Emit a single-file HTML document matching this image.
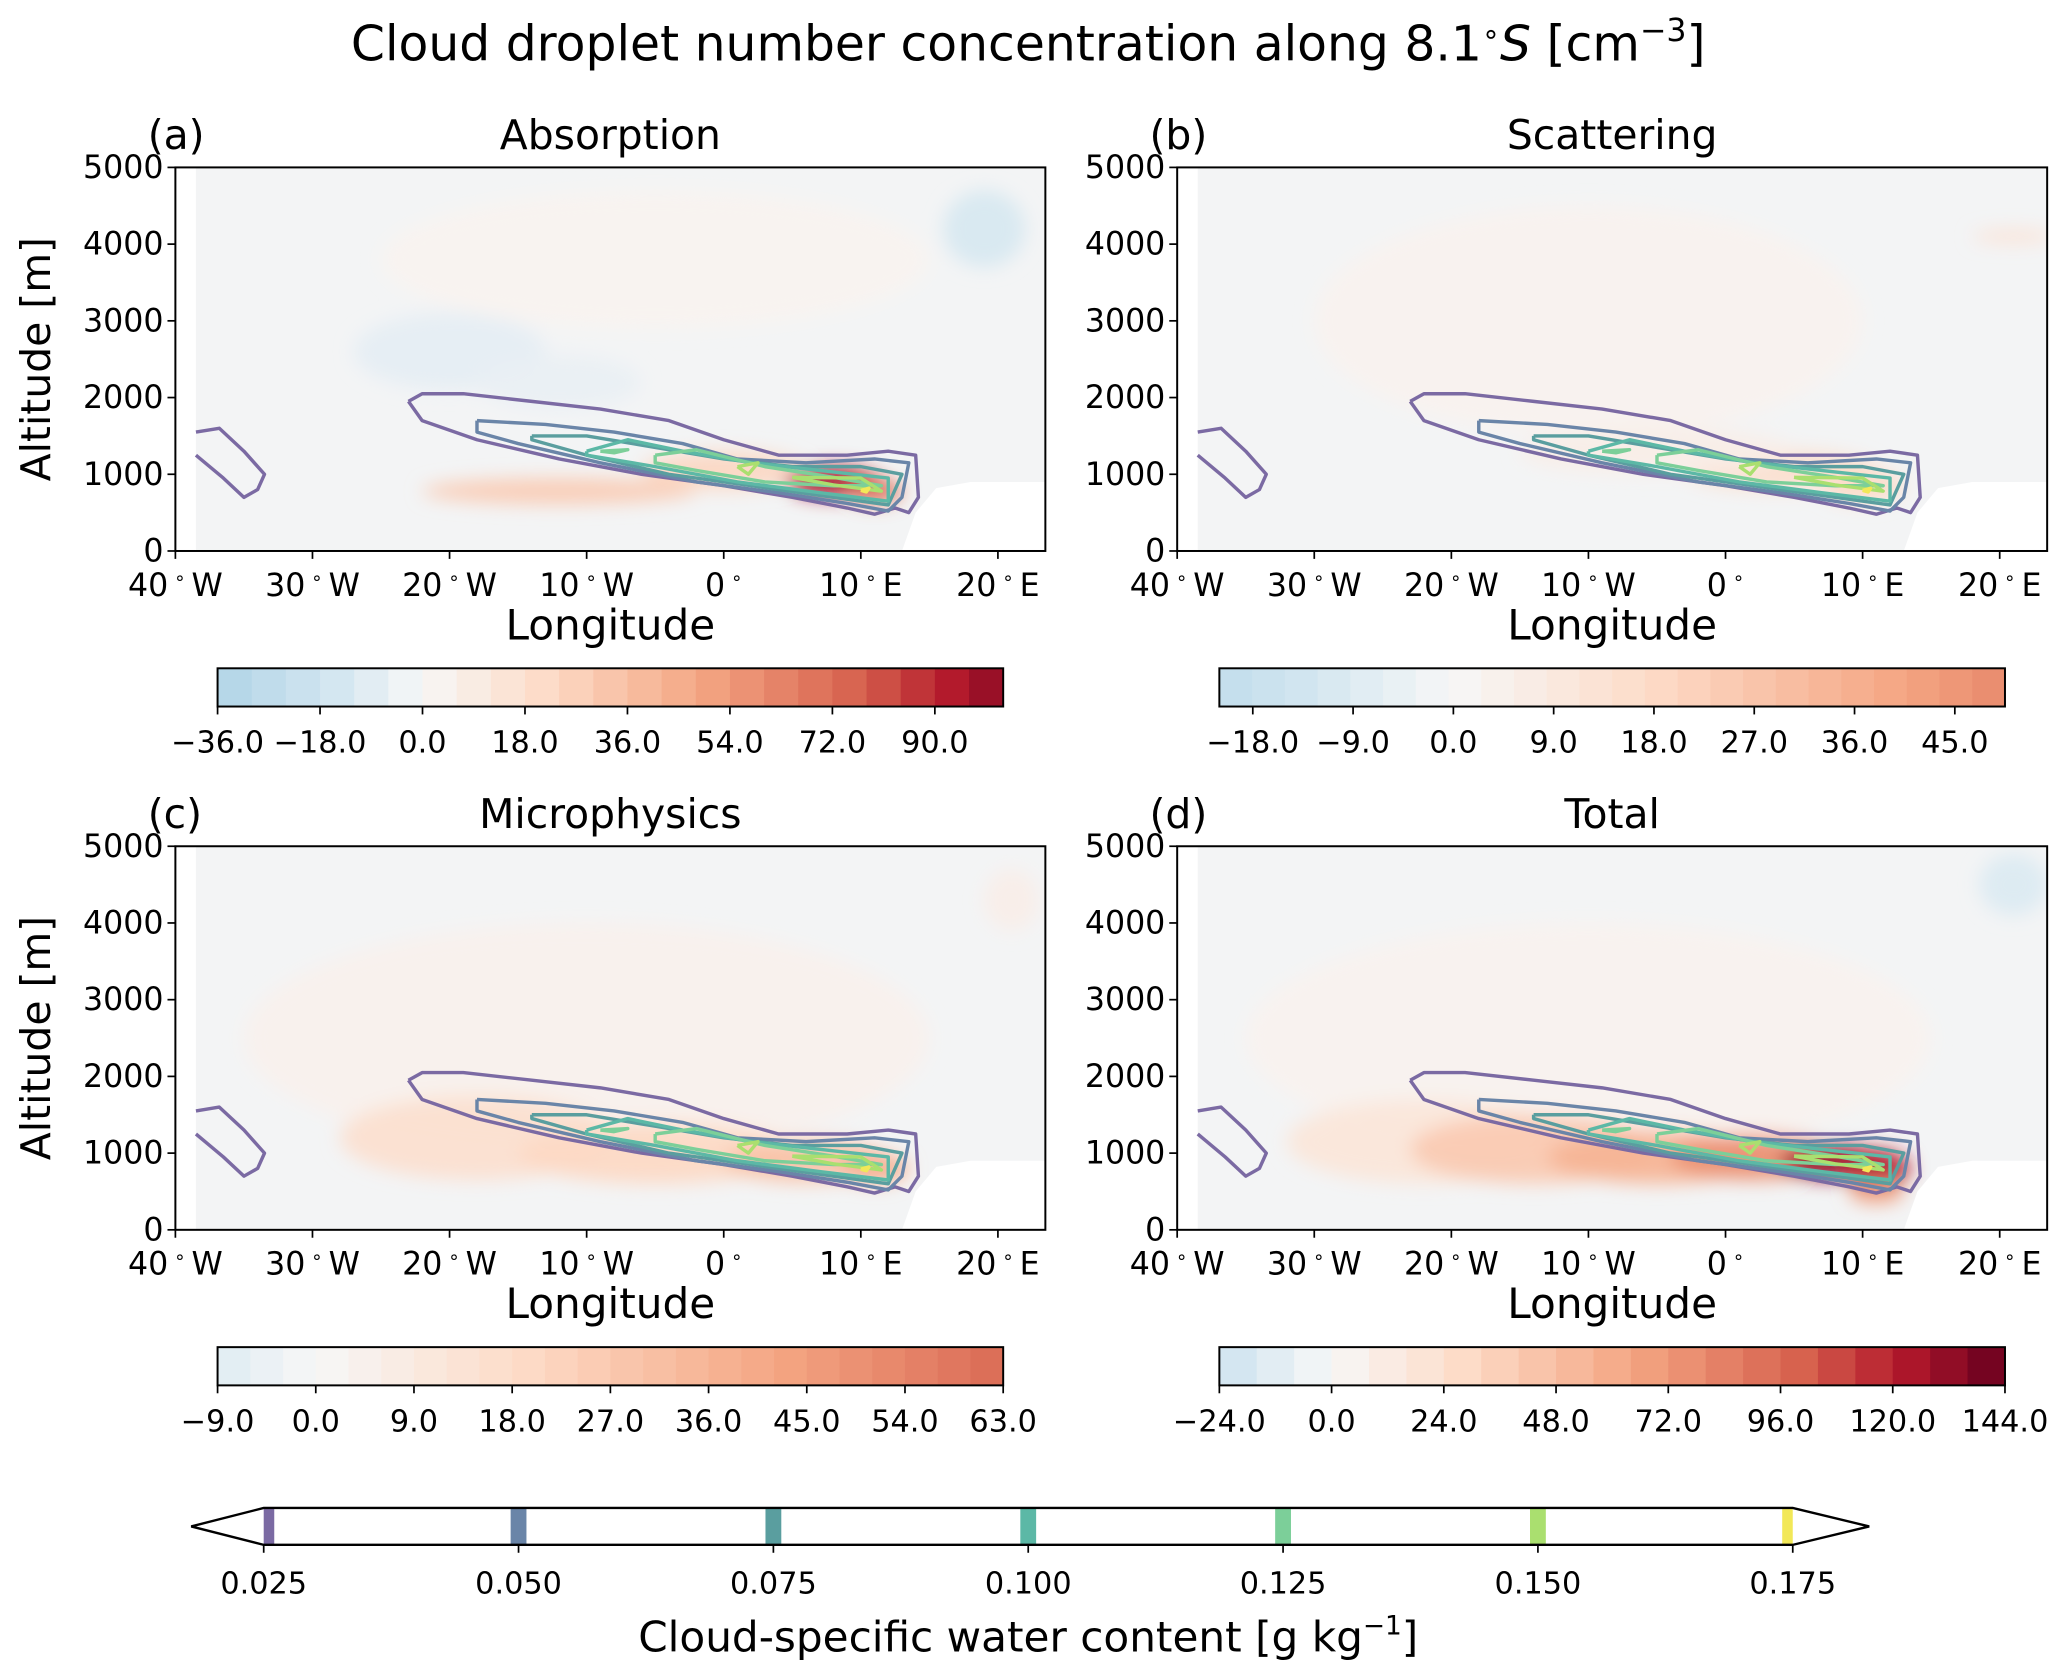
<!DOCTYPE html>
<html><head><meta charset="utf-8"><style>
html,body{margin:0;padding:0;background:#fff}
svg{display:block}
text{font-family:"DejaVu Sans","Liberation Sans",sans-serif;fill:#000}
</style></head><body>
<svg id="fig" width="2067" height="1678" viewBox="0 0 1568 1273" xmlns="http://www.w3.org/2000/svg">
<defs>
<filter id="blur" x="-50%" y="-50%" width="200%" height="200%"><feGaussianBlur stdDeviation="7"/></filter>
</defs>
<text x="780" y="46" font-size="37" text-anchor="middle">Cloud droplet number concentration along 8.1<tspan font-size="22" dy="-13">∘</tspan><tspan dy="13" font-style="italic">S</tspan> [cm<tspan font-size="24" dy="-15">−3</tspan><tspan dy="15">]</tspan></text>
<g id="panels"></g>
<g id="cwc-colorbar"></g>
</svg>
<script>
// ---- data ----
const lonTicks=[-40,-30,-20,-10,0,10,20];
const lonTickNums=["40","30","20","10","0","10","20"];
const lonTickHemi=["W","W","W","W","","E","E"];
const altTicks=[0,1000,2000,3000,4000,5000];
const panelTitles=["Absorption","Scattering","Microphysics","Total"];
const panelLetters=["(a)","(b)","(c)","(d)"];
// blobs: lon, alt, lon-halfwidth, alt-halfwidth, value
const blobsA=[[-5,3800,20,900,3],[-20,2600,7,500,-8],[-12,2200,6,350,-6],[19,4200,3,500,-14],[-12,780,10,170,30],[0,1050,6,250,24],[8,900,3.5,200,95],[11,780,2,160,70]];
const blobsB=[[-10,3000,20,1500,3],[4,1050,7,250,16],[10,850,3,220,18],[21,4100,3,80,14],[-5,1300,10,300,6]];
const blobsC=[[-10,2500,25,1500,4],[-18,1200,10,550,16],[-5,1000,10,400,20],[6,900,6,280,30],[11,800,2.5,200,38],[21,4300,2,400,6]];
const blobsD=[[-10,2500,25,1500,5],[-22,1150,10,550,18],[-14,1050,9,450,40],[-5,950,8,350,55],[2,950,6,300,75],[8,880,4,220,130],[11,800,2.5,250,120],[11,500,2,150,70],[21,4500,2.5,400,-16]];
const panelBlobs=[blobsA,blobsB,blobsC,blobsD];
const cbLo=[-36,-21,-9,-24], cbHi=[102,49.5,63,144], cbBins=[23,24,24,21];
const cbTicks=[[-36,-18,0,18,36,54,72,90],[-18,-9,0,9,18,27,36,45],[-9,0,9,18,27,36,45,54,63],[-24,0,24,48,72,96,120,144]];
const cmapMax=[110,90,95,144];
// contours of cloud water (lon, alt)
const cwcLevels=[0.025,0.05,0.075,0.1,0.125,0.15,0.175];
const cwcColors=["#7b6aa3","#6a85a8","#5a9e9f","#5cb8a6","#7ccf99","#aadf6f","#f2e858"];
const contours=[
 [0,[[-23,1950],[-22,2050],[-19,2050],[-14,1950],[-9,1850],[-4,1700],[0,1450],[4,1250],[9,1250],[12,1300],[14,1250],[14.2,700],[13.5,500],[12.5,560],[11,480],[9,560],[5,700],[0,850],[-6,1000],[-12,1200],[-18,1450],[-22,1700],[-23,1950]]],
 [0,[[-38.5,1550],[-36.8,1600],[-35,1300],[-33.5,1000],[-34,800],[-35,700],[-36.5,950],[-38.5,1250]]],
 [1,[[-18,1700],[-13,1650],[-8,1550],[-3,1400],[1,1200],[6,1150],[11,1200],[13.5,1150],[13,700],[12,520],[9,620],[4,760],[-2,900],[-9,1150],[-15,1400],[-18,1550],[-18,1700]]],
 [2,[[-14,1500],[-10,1500],[-5,1350],[0,1200],[5,1100],[10,1100],[13,1000],[12,600],[8,700],[2,850],[-4,1000],[-10,1250],[-14,1450],[-14,1500]]],
 [3,[[-10,1300],[-7,1450],[-3,1300],[2,1150],[7,1050],[12,950],[12,650],[7,760],[1,900],[-5,1100],[-10,1250],[-10,1300]]],
 [4,[[-9,1300],[-7,1320],[-8,1280],[-9,1300]]],
 [4,[[-5,1250],[-2,1320],[3,1100],[8,960],[11.5,850],[8,850],[3,900],[-2,1050],[-5,1150],[-5,1250]]],
 [5,[[1,1100],[2.5,1150],[1.8,1000],[1,1100]]],
 [5,[[5,960],[10,950],[11.5,780],[8,860],[5,960]]],
 [6,[[10,790],[10.6,820],[10.4,770],[10,790]]]
];
// ---- helpers ----
const NS="http://www.w3.org/2000/svg";
function mk(tag,attrs,parent){const e=document.createElementNS(NS,tag);for(const k in attrs)e.setAttribute(k,attrs[k]);if(parent)parent.appendChild(e);return e;}
function lerp(a,b,t){return a+(b-a)*t}
const stops=[[-1,[33,102,172]],[-0.5,[146,197,222]],[-0.15,[209,229,240]],[0,[247,247,247]],[0.2,[253,219,199]],[0.45,[244,165,130]],[0.7,[214,96,77]],[0.85,[178,24,43]],[1,[103,0,31]]];
function cmap(t){t=Math.max(-1,Math.min(1,t));for(let i=0;i<stops.length-1;i++){const a=stops[i],b=stops[i+1];if(t<=b[0]){const u=(t-a[0])/(b[0]-a[0]);return `rgb(${Math.round(lerp(a[1][0],b[1][0],u))},${Math.round(lerp(a[1][1],b[1][1],u))},${Math.round(lerp(a[1][2],b[1][2],u))})`;}}return "rgb(103,0,31)";}
const panelsG=document.getElementById('panels');
const pos=[[133,127],[893,127],[133,642],[893,642]];
const PW=660,PH=291;
panelTitles.forEach((title,p)=>{
 const [X0,Y0]=pos[p];
 const xS=lon=>X0+(lon+40)*(624/60);
 const yS=alt=>Y0+PH-alt/5000*PH;
 const g=mk('g',{},panelsG);
 
 
 const cid='clip'+p;
 const cp=mk('clipPath',{id:cid},g);mk('rect',{x:X0,y:Y0,width:PW,height:PH},cp);
 const field=mk('g',{'clip-path':`url(#${cid})`},g);
 
 
 mk('rect',{x:X0,y:Y0,width:PW,height:PH,fill:'#f3f4f5'},field);
 const bg=mk('g',{filter:'url(#blur)'},field);
 panelBlobs[p].forEach(b=>{
  const el=mk('ellipse',{cx:xS(b[0]),cy:yS(b[1]),rx:b[2]*10.4,ry:b[3]/5000*PH,fill:cmap(b[4]/cmapMax[p]),'fill-opacity':0.92},bg);
  
  
 });
 const terr=[[13,0],[14,500],[15.5,820],[18,900],[24,900],[24,0]].map(q=>xS(q[0])+','+yS(q[1])).join(' ');
 mk('polygon',{points:terr,fill:'#fff'},field);
 mk('rect',{x:X0,y:Y0,width:xS(-38.5)-X0,height:PH,fill:'#fff'},field);
 contours.forEach(c=>{
  const el=mk('polyline',{points:c[1].map(q=>xS(q[0]).toFixed(1)+','+yS(q[1]).toFixed(1)).join(' '),fill:'none',stroke:cwcColors[c[0]],'stroke-width':2.6,'stroke-linejoin':'round'},field);
  
  
 });
 mk('rect',{x:X0,y:Y0,width:PW,height:PH,fill:'none',stroke:'#000','stroke-width':1.5},g);
 lonTicks.forEach((l,i)=>{const x=xS(l);mk('line',{x1:x,x2:x,y1:Y0+PH,y2:Y0+PH+6,stroke:'#000','stroke-width':1.3},g);
  const t=mk('text',{x:x,y:Y0+PH+34,'font-size':24,'text-anchor':'middle'},g);
  t.innerHTML=lonTickNums[i]+'<tspan font-size="14" dy="-9"> ∘ </tspan><tspan dy="9">'+lonTickHemi[i]+'</tspan>';
  });
 altTicks.forEach(a=>{const y=yS(a);mk('line',{x1:X0-6,x2:X0,y1:y,y2:y,stroke:'#000','stroke-width':1.3},g);
  const t=mk('text',{x:X0-9,y:y+8,'font-size':24,'text-anchor':'end'},g);t.textContent=a;
  });
 const xl=mk('text',{x:X0+PW/2,y:Y0+PH+67,'font-size':32,'text-anchor':'middle'},g);xl.textContent='Longitude';
 
 if(p%2==0){const yl=mk('text',{x:0,y:0,'font-size':31,'text-anchor':'middle',transform:`translate(38,${Y0+PH/2}) rotate(-90)`},g);yl.textContent='Altitude [m]';
  }
 const tt=mk('text',{x:X0+PW/2,y:Y0-14,'font-size':31,'text-anchor':'middle'},g);tt.textContent=title;
 
 const lt=mk('text',{x:X0-21,y:Y0-14,'font-size':31},g);lt.textContent=panelLetters[p];
 
 const cb=mk('g',{},g);
 
 
 const cx0=X0+32,cw=596,cy0=Y0+380,ch=29;
 const lo=cbLo[p],hi=cbHi[p],n=cbBins[p];
 const cxS=v=>cx0+(v-lo)/(hi-lo)*cw;
 for(let i=0;i<n;i++){const v0=lo+(hi-lo)*i/n,v1=lo+(hi-lo)*(i+1)/n;
  const r=mk('rect',{x:cxS(v0),y:cy0,width:cxS(v1)-cxS(v0)+0.6,height:ch,fill:cmap(((v0+v1)/2)/cmapMax[p])},cb);
  }
 mk('rect',{x:cx0,y:cy0,width:cw,height:ch,fill:'none',stroke:'#000','stroke-width':1.5},cb);
 cbTicks[p].forEach(v=>{const x=cxS(v);mk('line',{x1:x,x2:x,y1:cy0+ch,y2:cy0+ch+6,stroke:'#000','stroke-width':1.3},cb);
  const t=mk('text',{x:x,y:cy0+ch+35,'font-size':23,'text-anchor':'middle'},cb);t.textContent=(v<0?'−':'')+Math.abs(v).toFixed(1);
  });
});
const bc=document.getElementById('cwc-colorbar');
const bx0=200,bx1=1360,by0=1144,bh=28;
const bxS=v=>bx0+(v-0.025)/(0.175-0.025)*(bx1-bx0);
const outline=`${bx0},${by0} ${bx1},${by0} ${1418},${by0+bh/2} ${bx1},${by0+bh} ${bx0},${by0+bh} ${145},${by0+bh/2}`;
mk('polygon',{points:outline,fill:'#fff',stroke:'none'},bc);
cwcLevels.forEach((v,i)=>{const x=bxS(v);
 const w=(i==0||i==6)?8:12;
 const r=mk('rect',{x:i==0?x:(i==6?x-8:x-6),y:by0,width:w,height:bh,fill:cwcColors[i]},bc);
 
 mk('line',{x1:x,x2:x,y1:by0+bh,y2:by0+bh+6,stroke:'#000','stroke-width':1.3},bc);
 const t=mk('text',{x:x,y:by0+bh+37,'font-size':23,'text-anchor':'middle'},bc);t.textContent=v.toFixed(3);
 });
mk('polygon',{points:outline,fill:'none',stroke:'#000','stroke-width':1.8},bc);
const bt=mk('text',{x:780,y:1253,'font-size':32,'text-anchor':'middle'},bc);
bt.innerHTML='Cloud-specific water content [g kg<tspan font-size="20" dy="-13">−1</tspan><tspan dy="13">]</tspan>';

</script>
</body></html>
